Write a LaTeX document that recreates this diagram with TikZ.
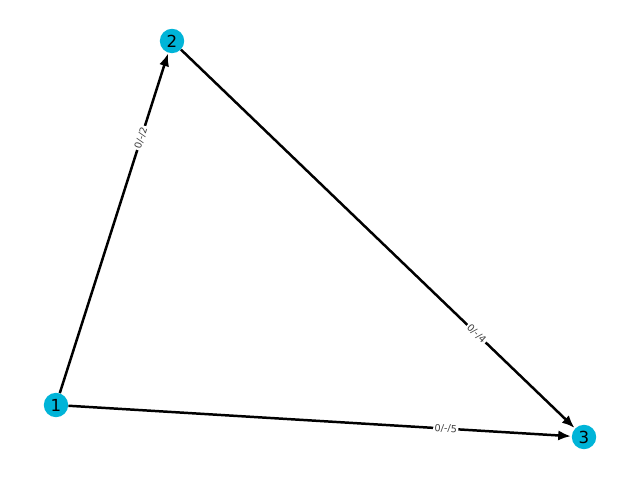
\documentclass[tikz,border=0pt]{standalone}
\usepackage{fontspec}
\setmainfont{DejaVu Sans}
\usetikzlibrary{arrows.meta}
\definecolor{vcyan}{RGB}{0,180,216}

\begin{document}
\begin{tikzpicture}[x=0.254mm,y=-0.254mm,
  vtx/.style={circle,fill=vcyan,minimum size=6.2mm,inner sep=0pt,font=\fontsize{12}{12}\selectfont},
  edg/.style={line width=1.8pt,-{Latex[length=3.2mm,width=2.6mm]},shorten >=0.5pt},
  elab/.style={sloped,fill=white,inner sep=1pt,text=black!75,font=\fontsize{7}{7}\selectfont}]
\useasboundingbox (0,0) rectangle (640,480);
% vertices
\foreach \x/\y/\n in {56/405/1,172/41/2,584/437/3}{\node[vtx](v\n) at (\x,\y){\n};}
% arcs
\draw[edg] (v1) -- node[elab,pos=0.75]{0/-/2} (v2);
\draw[edg] (v2) -- node[elab,pos=0.75]{0/-/4} (v3);
\draw[edg] (v1) -- node[elab,pos=0.75]{0/-/5} (v3);
\end{tikzpicture}
\end{document}
